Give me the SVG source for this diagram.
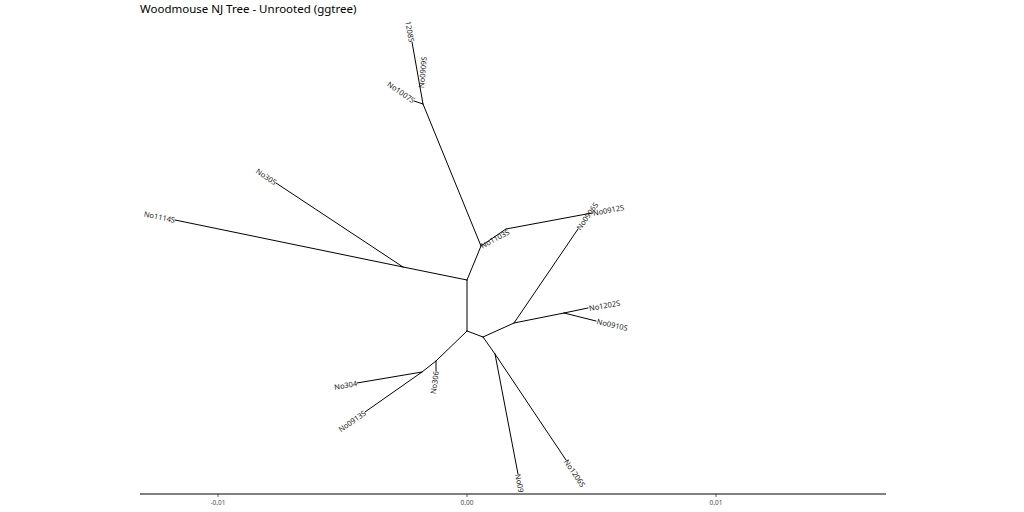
<svg xmlns="http://www.w3.org/2000/svg" width="1024" height="512" viewBox="0 0 1024 512">
<style>
.e{stroke:#000;stroke-width:1;fill:none;stroke-linecap:round}
.t{font-family:"Noto Sans","Open Sans",sans-serif;font-size:7.5px;fill:#1a1a1a;dominant-baseline:central}
.s{text-anchor:start}.n{text-anchor:end}
.ax{font-family:"Noto Sans","Open Sans",sans-serif;font-size:6.5px;fill:#4d4d4d;text-anchor:middle}
</style>
<rect width="1024" height="512" fill="#fff"/>
<text x="140" y="13" font-family="Noto Sans, Open Sans, sans-serif" font-size="11.5" fill="#000">Woodmouse NJ Tree - Unrooted (ggtree)</text>
<g id="connectors">
<path class="e" d="M467,280 L467,331"/>
<path class="e" d="M467,280 L403,267"/>
<path class="e" d="M403,267 L175,220"/>
<path class="e" d="M403,267 L276,183"/>
<path class="e" d="M467,280 L481,246"/>
<path class="e" d="M481,246 L423,104"/>
<path class="e" d="M423,104 L414,101"/>
<path class="e" d="M423,104 L412,42"/>
<path class="e" d="M481,246 L506,229"/>
<path class="e" d="M506,229 L592,213"/>
<path class="e" d="M467,331 L483,337"/>
<path class="e" d="M483,337 L514,323"/>
<path class="e" d="M514,323 L578,229"/>
<path class="e" d="M514,323 L564,313"/>
<path class="e" d="M564,313 L588,308"/>
<path class="e" d="M564,313 L596,321"/>
<path class="e" d="M483,337 L495,354"/>
<path class="e" d="M495,354 L518,474"/>
<path class="e" d="M495,354 L566,460"/>
<path class="e" d="M467,331 L436,361"/>
<path class="e" d="M436,361 L436,371"/>
<path class="e" d="M436,361 L422,372"/>
<path class="e" d="M422,372 L357,383"/>
<path class="e" d="M422,372 L365,412"/>
</g>
<g id="tip-No1114S"><text class="t n" transform="translate(175,220) rotate(12)">No1114S</text></g>
<g id="tip-No305"><text class="t n" transform="translate(276,183) rotate(34)">No305</text></g>
<g id="tip-No1007S"><text class="t n" transform="translate(414,101) rotate(35)">No1007S</text></g>
<g id="tip-1208S"><text class="t n" transform="translate(412,42) rotate(80)">1208S</text></g>
<g id="tip-No0909S"><text class="t s" transform="translate(421,88) rotate(-85)">No0909S</text></g>
<g id="tip-No1103S"><text class="t s" transform="translate(481,246) rotate(-28)">No1103S</text></g>
<g id="tip-No0912S"><text class="t s" transform="translate(593,213) rotate(-11)">No0912S</text></g>
<g id="tip-No0906S"><text class="t s" transform="translate(578,229) rotate(-55)">No0906S</text></g>
<g id="tip-No1202S"><text class="t s" transform="translate(589,308) rotate(-10)">No1202S</text></g>
<g id="tip-No0910S"><text class="t s" transform="translate(597,321) rotate(13)">No0910S</text></g>
<g id="tip-No09"><text class="t s" transform="translate(518,474) rotate(79)">No09</text></g>
<g id="tip-No1206S"><text class="t s" transform="translate(566,460) rotate(56)">No1206S</text></g>
<g id="tip-No306"><text class="t n" transform="translate(436,371) rotate(-82)">No306</text></g>
<g id="tip-No304"><text class="t n" transform="translate(357,383) rotate(-10)">No304</text></g>
<g id="tip-No0913S"><text class="t n" transform="translate(365,412) rotate(-35)">No0913S</text></g>
<g id="axis">
<line x1="140" y1="494" x2="886" y2="494" stroke="#000" stroke-width="1"/>
<line x1="218" y1="494" x2="218" y2="497" stroke="#333" stroke-width="0.8"/>
<line x1="467" y1="494" x2="467" y2="497" stroke="#333" stroke-width="0.8"/>
<line x1="716" y1="494" x2="716" y2="497" stroke="#333" stroke-width="0.8"/>
<text class="ax" x="218" y="505">-0.01</text>
<text class="ax" x="467" y="505">0.00</text>
<text class="ax" x="716" y="505">0.01</text>
</g>
</svg>
